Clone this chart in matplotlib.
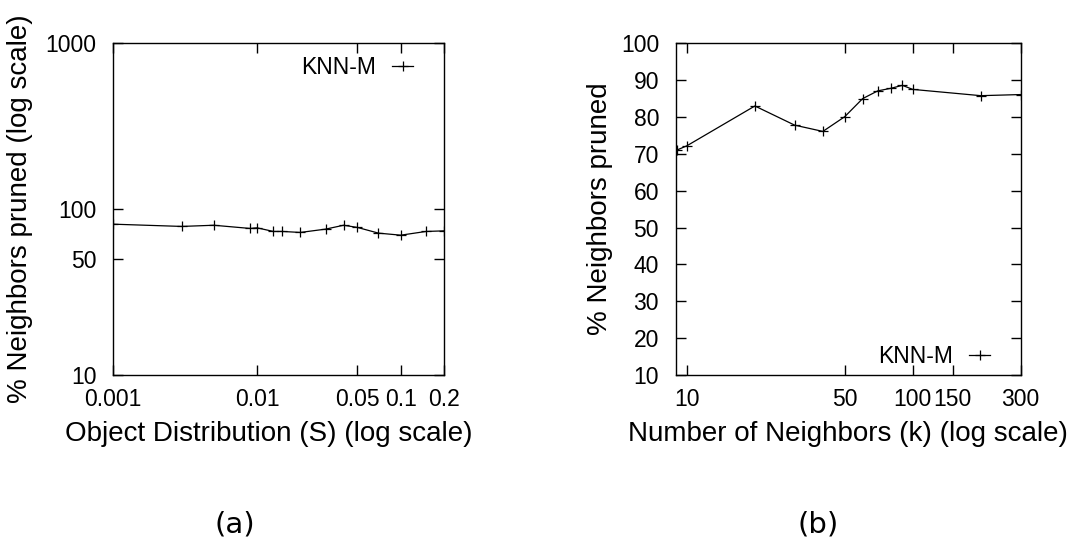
#!/usr/bin/env python3

import matplotlib

matplotlib.use("Agg")
import matplotlib.pyplot as plt
from matplotlib.ticker import FixedLocator, FixedFormatter, NullLocator

# (a) pruning ratio vs. object distribution
dist_s = [0.001, 0.003, 0.005, 0.009, 0.01, 0.013, 0.015, 0.02, 0.03,
          0.04, 0.05, 0.07, 0.1, 0.15, 0.2]
pruned_s = [81.2, 78.7, 80.0, 76.5, 77.2, 73.4, 73.4, 72.4, 75.8,
            80.0, 77.6, 71.7, 69.7, 73.4, 74.0]

# (b) pruning ratio vs. number of neighbors
neighbors_k = [9, 10, 20, 30, 40, 50, 60, 70, 80, 90, 100, 200, 300]
pruned_k = [71.0, 72.2, 83.0, 77.8, 76.1, 80.1, 85.0, 87.1, 87.8, 88.6,
            87.5, 85.8, 86.1]

xticks_a = [0.001, 0.01, 0.05, 0.1, 0.2]
xticklabels_a = ["0.001", "0.01", "0.05", "0.1", "0.2"]
yticks_a = [10, 50, 100, 1000]
xticks_b = [10, 50, 100, 150, 300]
yticks_b = list(range(10, 101, 10))

plt.rcParams["font.family"] = ["Liberation Sans", "DejaVu Sans"]

TICK_FS = 16.5
LABEL_FS = 20

fig = plt.figure(figsize=(10.83, 5.41), dpi=100)
ax_a = fig.add_axes([0.1046, 0.3068, 0.3054, 0.6131])
ax_b = fig.add_axes([0.6239, 0.3068, 0.3184, 0.6131])


def style_axis(ax):
    ax.tick_params(which="major", direction="in", length=7, width=1,
                   top=True, right=True, labelsize=TICK_FS)
    ax.tick_params(axis="x", pad=9.5)
    ax.tick_params(axis="y", pad=12)
    ax.xaxis.set_minor_locator(NullLocator())
    ax.yaxis.set_minor_locator(NullLocator())
    for sp in ax.spines.values():
        sp.set_linewidth(1)


line_kw = dict(color="black", linewidth=0.9, marker="+", markersize=7,
               markeredgewidth=0.9, label="KNN-M")
legend_kw = dict(frameon=False, markerfirst=False, handlelength=0.9,
                 handletextpad=0.7, fontsize=TICK_FS, borderaxespad=0,
                 borderpad=0)

ax_a.plot(dist_s, pruned_s, **line_kw)
ax_a.set_xscale("log")
ax_a.set_yscale("log")
ax_a.set_xlim(0.001, 0.2)
ax_a.set_ylim(10, 1000)
ax_a.xaxis.set_major_locator(FixedLocator(xticks_a))
ax_a.xaxis.set_major_formatter(FixedFormatter(xticklabels_a))
ax_a.yaxis.set_major_locator(FixedLocator(yticks_a))
ax_a.yaxis.set_major_formatter(FixedFormatter([str(v) for v in yticks_a]))
style_axis(ax_a)
ax_a.set_xlabel("Object Distribution (S) (log scale)", fontsize=LABEL_FS)
ax_a.set_ylabel("% Neighbors pruned (log scale)", fontsize=LABEL_FS)
ax_a.xaxis.set_label_coords(0.47, -0.139)
ax_a.yaxis.set_label_coords(-0.243, 0.5)
ax_a.legend(loc="upper right", bbox_to_anchor=(0.906, 0.962), **legend_kw)

ax_b.plot(neighbors_k, pruned_k, **line_kw)
ax_b.set_xscale("log")
ax_b.set_xlim(8.92, 300)
ax_b.set_ylim(10, 100)
ax_b.xaxis.set_major_locator(FixedLocator(xticks_b))
ax_b.xaxis.set_major_formatter(FixedFormatter([str(v) for v in xticks_b]))
ax_b.yaxis.set_major_locator(FixedLocator(yticks_b))
ax_b.yaxis.set_major_formatter(FixedFormatter([str(v) for v in yticks_b]))
style_axis(ax_b)
ax_b.set_xlabel("Number of Neighbors (k) (log scale)", fontsize=LABEL_FS)
ax_b.set_ylabel("% Neighbors pruned", fontsize=LABEL_FS)
ax_b.xaxis.set_label_coords(0.5, -0.139)
ax_b.yaxis.set_label_coords(-0.182, 0.5)
ax_b.legend(loc="lower right", bbox_to_anchor=(0.9115, 0.021), **legend_kw)

# sub-figure captions
fig.text(235 / 1083, 1 - 524 / 541, "(a)", ha="center", va="center",
         fontsize=21, family="DejaVu Sans")
fig.text(818 / 1083, 1 - 524 / 541, "(b)", ha="center", va="center",
         fontsize=21, family="DejaVu Sans")

fig.savefig("out.png", dpi=100)
